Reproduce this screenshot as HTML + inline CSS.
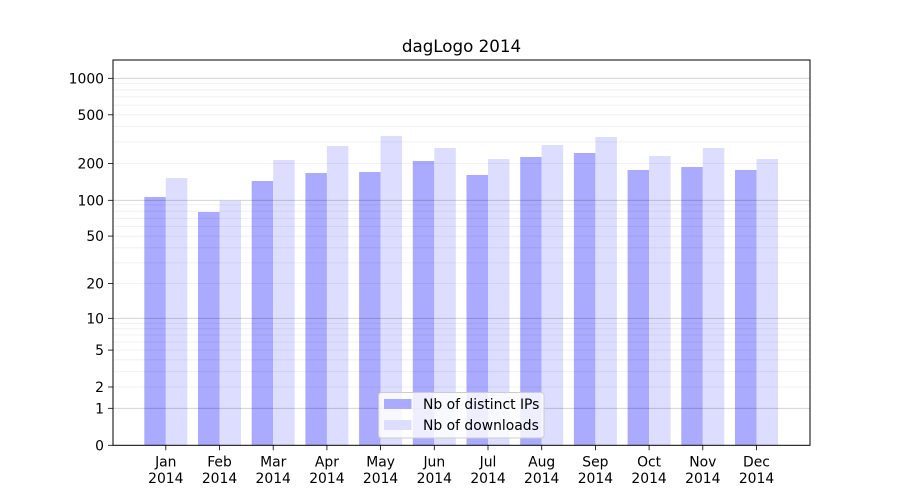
<!DOCTYPE html>
<html><head><meta charset="utf-8"><style>
html,body{margin:0;padding:0;background:#fff;}
svg{display:block;font-family:"DejaVu Sans","Liberation Sans",sans-serif;}
</style></head><body>
<svg width="900" height="500" viewBox="0 0 900 500" xmlns="http://www.w3.org/2000/svg">
<rect width="900" height="500" fill="#fff"/>
<!-- bars -->
<g>
<rect x="144.3" y="197" width="21.5" height="248.3" fill="#aaaaff"/><rect x="165.8" y="178" width="21.5" height="267.3" fill="#ddddff"/>
<rect x="198.0" y="212" width="21.5" height="233.3" fill="#aaaaff"/><rect x="219.5" y="200.7" width="21.5" height="244.6" fill="#ddddff"/>
<rect x="251.7" y="181" width="21.5" height="264.3" fill="#aaaaff"/><rect x="273.2" y="160" width="21.5" height="285.3" fill="#ddddff"/>
<rect x="305.4" y="173" width="21.5" height="272.3" fill="#aaaaff"/><rect x="326.9" y="146" width="21.5" height="299.3" fill="#ddddff"/>
<rect x="359.1" y="172" width="21.5" height="273.3" fill="#aaaaff"/><rect x="380.6" y="136" width="21.5" height="309.3" fill="#ddddff"/>
<rect x="412.8" y="161" width="21.5" height="284.3" fill="#aaaaff"/><rect x="434.3" y="148" width="21.5" height="297.3" fill="#ddddff"/>
<rect x="466.5" y="175" width="21.5" height="270.3" fill="#aaaaff"/><rect x="488.0" y="159" width="21.5" height="286.3" fill="#ddddff"/>
<rect x="520.2" y="157" width="21.5" height="288.3" fill="#aaaaff"/><rect x="541.7" y="145" width="21.5" height="300.3" fill="#ddddff"/>
<rect x="573.9" y="153" width="21.5" height="292.3" fill="#aaaaff"/><rect x="595.4" y="137" width="21.5" height="308.3" fill="#ddddff"/>
<rect x="627.6" y="170" width="21.5" height="275.3" fill="#aaaaff"/><rect x="649.1" y="156" width="21.5" height="289.3" fill="#ddddff"/>
<rect x="681.3" y="167" width="21.5" height="278.3" fill="#aaaaff"/><rect x="702.8" y="148" width="21.5" height="297.3" fill="#ddddff"/>
<rect x="735.0" y="170" width="21.5" height="275.3" fill="#aaaaff"/><rect x="756.5" y="159" width="21.5" height="286.3" fill="#ddddff"/>
</g>
<!-- minor gridlines -->
<g stroke="#000" stroke-opacity="0.07" stroke-width="0.8">
<line x1="113" x2="810" y1="387.0" y2="387.0"/>
<line x1="113" x2="810" y1="371.7" y2="371.7"/>
<line x1="113" x2="810" y1="359.8" y2="359.8"/>
<line x1="113" x2="810" y1="350.1" y2="350.1"/>
<line x1="113" x2="810" y1="342.1" y2="342.1"/>
<line x1="113" x2="810" y1="335.0" y2="335.0"/>
<line x1="113" x2="810" y1="328.8" y2="328.8"/>
<line x1="113" x2="810" y1="323.3" y2="323.3"/>
<line x1="113" x2="810" y1="283.6" y2="283.6"/>
<line x1="113" x2="810" y1="262.9" y2="262.9"/>
<line x1="113" x2="810" y1="247.8" y2="247.8"/>
<line x1="113" x2="810" y1="236.1" y2="236.1"/>
<line x1="113" x2="810" y1="226.4" y2="226.4"/>
<line x1="113" x2="810" y1="218.3" y2="218.3"/>
<line x1="113" x2="810" y1="211.2" y2="211.2"/>
<line x1="113" x2="810" y1="204.9" y2="204.9"/>
<line x1="113" x2="810" y1="163.4" y2="163.4"/>
<line x1="113" x2="810" y1="141.9" y2="141.9"/>
<line x1="113" x2="810" y1="126.6" y2="126.6"/>
<line x1="113" x2="810" y1="114.8" y2="114.8"/>
<line x1="113" x2="810" y1="105.1" y2="105.1"/>
<line x1="113" x2="810" y1="96.9" y2="96.9"/>
<line x1="113" x2="810" y1="89.8" y2="89.8"/>
<line x1="113" x2="810" y1="83.6" y2="83.6"/>
</g>
<!-- major gridlines -->
<g stroke="#000" stroke-opacity="0.2" stroke-width="0.8">
<line x1="113" x2="810" y1="408.3" y2="408.3"/>
<line x1="113" x2="810" y1="318.3" y2="318.3"/>
<line x1="113" x2="810" y1="200.3" y2="200.3"/>
<line x1="113" x2="810" y1="78.3" y2="78.3"/>
</g>
<!-- axes frame -->
<rect x="113" y="60" width="697" height="385.3" fill="none" stroke="#000" stroke-width="1"/>
<!-- y ticks -->
<g stroke="#000" stroke-width="0.8">
<line x1="108" x2="113" y1="445.3" y2="445.3"/>
<line x1="108" x2="113" y1="408.3" y2="408.3"/>
<line x1="108" x2="113" y1="387.0" y2="387.0"/>
<line x1="108" x2="113" y1="350.1" y2="350.1"/>
<line x1="108" x2="113" y1="318.3" y2="318.3"/>
<line x1="108" x2="113" y1="283.6" y2="283.6"/>
<line x1="108" x2="113" y1="236.1" y2="236.1"/>
<line x1="108" x2="113" y1="200.3" y2="200.3"/>
<line x1="108" x2="113" y1="163.4" y2="163.4"/>
<line x1="108" x2="113" y1="114.8" y2="114.8"/>
<line x1="108" x2="113" y1="78.3" y2="78.3"/>
</g>
<g font-size="13.9" fill="#000" text-anchor="end">
<text x="104" y="450.3">0</text>
<text x="104" y="413.3">1</text>
<text x="104" y="392.0">2</text>
<text x="104" y="355.1">5</text>
<text x="104" y="323.3">10</text>
<text x="104" y="288.6">20</text>
<text x="104" y="241.1">50</text>
<text x="104" y="205.3">100</text>
<text x="104" y="168.4">200</text>
<text x="104" y="119.8">500</text>
<text x="104" y="83.3">1000</text>
</g>
<!-- x ticks -->
<g stroke="#000" stroke-width="0.8">
<line x1="165.8" x2="165.8" y1="445.3" y2="450.3"/>
<line x1="219.5" x2="219.5" y1="445.3" y2="450.3"/>
<line x1="273.2" x2="273.2" y1="445.3" y2="450.3"/>
<line x1="326.9" x2="326.9" y1="445.3" y2="450.3"/>
<line x1="380.6" x2="380.6" y1="445.3" y2="450.3"/>
<line x1="434.3" x2="434.3" y1="445.3" y2="450.3"/>
<line x1="488.0" x2="488.0" y1="445.3" y2="450.3"/>
<line x1="541.7" x2="541.7" y1="445.3" y2="450.3"/>
<line x1="595.4" x2="595.4" y1="445.3" y2="450.3"/>
<line x1="649.1" x2="649.1" y1="445.3" y2="450.3"/>
<line x1="702.8" x2="702.8" y1="445.3" y2="450.3"/>
<line x1="756.5" x2="756.5" y1="445.3" y2="450.3"/>
</g>
<g font-size="13.9" fill="#000" text-anchor="middle">
<text x="165.8" y="466.5">Jan</text><text x="165.8" y="483">2014</text>
<text x="219.5" y="466.5">Feb</text><text x="219.5" y="483">2014</text>
<text x="273.2" y="466.5">Mar</text><text x="273.2" y="483">2014</text>
<text x="326.9" y="466.5">Apr</text><text x="326.9" y="483">2014</text>
<text x="380.6" y="466.5">May</text><text x="380.6" y="483">2014</text>
<text x="434.3" y="466.5">Jun</text><text x="434.3" y="483">2014</text>
<text x="488.0" y="466.5">Jul</text><text x="488.0" y="483">2014</text>
<text x="541.7" y="466.5">Aug</text><text x="541.7" y="483">2014</text>
<text x="595.4" y="466.5">Sep</text><text x="595.4" y="483">2014</text>
<text x="649.1" y="466.5">Oct</text><text x="649.1" y="483">2014</text>
<text x="702.8" y="466.5">Nov</text><text x="702.8" y="483">2014</text>
<text x="756.5" y="466.5">Dec</text><text x="756.5" y="483">2014</text>
</g>
<!-- title -->
<text x="461.5" y="52" font-size="16.7" text-anchor="middle" fill="#000">dagLogo 2014</text>
<!-- legend -->
<rect x="378.5" y="392.5" width="165.5" height="45.5" rx="3" ry="3" fill="#fff" fill-opacity="0.8" stroke="#cccccc" stroke-width="1"/>
<rect x="384" y="399" width="27.5" height="10" fill="#aaaaff"/>
<rect x="384" y="420" width="27.5" height="10" fill="#ddddff"/>
<g font-size="13.9" fill="#000">
<text x="423" y="409">Nb of distinct IPs</text>
<text x="423" y="430">Nb of downloads</text>
</g>
</svg>
</body></html>
